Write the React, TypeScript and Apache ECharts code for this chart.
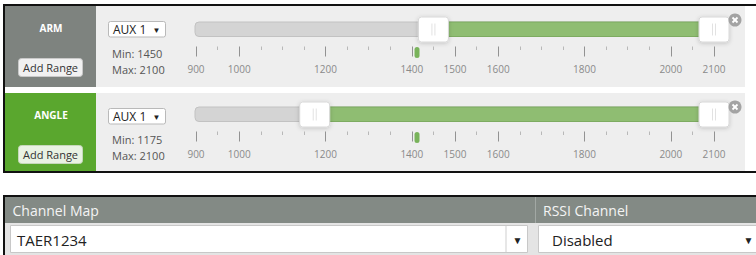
import React, { useEffect, useRef } from "react";
import * as echarts from "echarts";

// ---- data ----
const SCALE_MIN = 900;
const SCALE_MAX = 2100;
const SCALE_LABELS = [900, 1000, 1200, 1400, 1500, 1600, 1800, 2000, 2100];
const PIP_STEP = 50;
const MODE_NAMES = ["ARM", "ANGLE"];
const MODE_AUX = ["AUX 1", "AUX 1"];
const RANGE_MINS = [1450, 1175];
const RANGE_MAXS = [2100, 2100];
const CHANNEL_VALUES = [1412, 1412];
const PANEL_HEADERS = ["Channel Map", "RSSI Channel"];
const CHANNEL_MAP = "TAER1234";
const RSSI_CHANNEL = "Disabled";

const MINOR_PIPS: number[] = [];
for (let v = SCALE_MIN; v <= SCALE_MAX; v += PIP_STEP) {
  if (!SCALE_LABELS.includes(v)) MINOR_PIPS.push(v);
}

const FONT = '"Open Sans", "Noto Sans", sans-serif';

const ROWS = [
  { top: 6, bottom: 87, cell: "#7e837f", btn: "#f1f1f1", btnStroke: "#c9c9c9", gridTop: 16.5 },
  { top: 93, bottom: 171, cell: "#5aa72e", btn: "#e9f2e3", btnStroke: "#c6d8bb", gridTop: 101.5 },
];

function txt(text: string, x: number, y: number, size: number, color: string, opts: any = {}) {
  return {
    type: "text",
    z: 30,
    x,
    y,
    style: {
      text,
      fill: color,
      fontSize: size,
      fontFamily: FONT,
      fontWeight: opts.weight || "normal",
      textAlign: opts.align || "left",
      align: opts.align || "left",
      textVerticalAlign: "middle",
      verticalAlign: "middle",
    },
  };
}

function rect(x: number, y: number, w: number, h: number, fill: string, extra: any = {}) {
  return {
    type: "rect",
    z: extra.z ?? 1,
    shape: { x, y, width: w, height: h, r: extra.r || 0 },
    style: { fill, stroke: extra.stroke || null, lineWidth: extra.lineWidth || 1 },
  };
}

function buildGraphic() {
  const g: any[] = [];
  // black frame of top block
  g.push(rect(3, 4, 753, 2, "#111", { z: 2 }));
  g.push(rect(3, 4, 2, 169, "#111", { z: 2 }));
  g.push(rect(3, 171, 753, 2, "#111", { z: 2 }));

  ROWS.forEach((row, i) => {
    const h = row.bottom - row.top;
    g.push(rect(5, row.top, 91, h, row.cell));
    g.push(rect(96, row.top, 649, h, "#eeeeee"));
    g.push(txt(MODE_NAMES[i], 51, row.top + 21.5, 10, "#ffffff", { weight: "bold", align: "center" }));
    // Add Range button
    const by = row.top + 52;
    g.push(rect(18.5, by + 0.5, 64, 18, row.btn, { r: 3, stroke: row.btnStroke, z: 3 }));
    g.push(txt("Add Range", 50.5, by + 9.5, 11, "#333333", { align: "center" }));
    // AUX select
    const sy = row.top + 15;
    g.push(rect(108.5, sy + 0.5, 57, 15.5, "#ffffff", { r: 2, stroke: "#b9b9b9", z: 3 }));
    g.push(txt(MODE_AUX[i], 113, sy + 8.5, 12, "#222222"));
    g.push(txt("▼", 152.5, sy + 8, 8, "#222222"));
    // Min / Max
    g.push(txt("Min: " + RANGE_MINS[i], 112, row.top + 47.3 - (i ? 0.8 : 0), 11, "#555555"));
    g.push(txt("Max: " + RANGE_MAXS[i], 112, row.top + 63.5 - (i ? 1.5 : 0), 11, "#555555"));
    // close button
    const cx = 735, cy = row.top + 14;
    g.push({ type: "circle", z: 20, shape: { cx, cy, r: 6.5 }, style: { fill: "#a3a3a3" } });
    g.push({ type: "line", z: 21, shape: { x1: cx - 2.5, y1: cy - 2.5, x2: cx + 2.5, y2: cy + 2.5 }, style: { stroke: "#ffffff", lineWidth: 1.8 } });
    g.push({ type: "line", z: 21, shape: { x1: cx - 2.5, y1: cy + 2.5, x2: cx + 2.5, y2: cy - 2.5 }, style: { stroke: "#ffffff", lineWidth: 1.8 } });
  });

  // bottom block
  g.push(rect(3, 195, 753, 2, "#111", { z: 2 }));
  g.push(rect(3, 195, 2, 60, "#111", { z: 2 }));
  g.push(rect(5, 197, 751, 26, "#838a85"));
  g.push(rect(535, 197, 1, 26, "#a2a8a4", { z: 2 }));
  g.push(txt(PANEL_HEADERS[0], 12.5, 210, 14, "#f4f4f4"));
  g.push(txt(PANEL_HEADERS[1], 543, 210, 14, "#f4f4f4"));
  g.push(rect(5, 223, 751, 32, "#e4e4e4"));
  // channel map box
  g.push(rect(10.5, 225.5, 517, 27, "#ffffff", { stroke: "#c8c8c8", z: 3 }));
  g.push(rect(505.5, 226, 1, 26, "#cfcfcf", { z: 4 }));
  g.push(txt(CHANNEL_MAP, 17, 240, 15, "#222222"));
  g.push(txt("▼", 512.5, 240, 10, "#222222"));
  // rssi box
  g.push(rect(538.5, 225.5, 230, 27, "#ffffff", { stroke: "#c8c8c8", z: 3 }));
  g.push(txt(RSSI_CHANNEL, 552, 240, 15, "#222222"));
  g.push(txt("▼", 743.5, 240, 10, "#222222"));
  return g;
}

function sliderRender(params: any, api: any) {
  const cs = params.coordSys;
  const xMin = api.coord([api.value(0), 0])[0];
  const xMax = api.coord([api.value(1), 0])[0];
  const xVal = api.coord([api.value(2), 0])[0];
  const top = cs.y;
  const bottom = cs.y + cs.height;
  const trackY = top + 5.5;
  const trackH = 14.5;
  const handle = (cx: number) => ({
    type: "group",
    children: [
      {
        type: "rect",
        shape: { x: cx - 15, y: top + 0.5, width: 30, height: 25, r: 3 },
        style: { fill: "#ffffff", stroke: "#d8d8d8", lineWidth: 1, shadowBlur: 4, shadowColor: "rgba(0,0,0,0.18)", shadowOffsetY: 1 },
      },
      { type: "line", shape: { x1: cx - 1.5, y1: top + 7, x2: cx - 1.5, y2: top + 19 }, style: { stroke: "#e2e2e2", lineWidth: 1 } },
      { type: "line", shape: { x1: cx + 1.5, y1: top + 7, x2: cx + 1.5, y2: top + 19 }, style: { stroke: "#e2e2e2", lineWidth: 1 } },
    ],
  });
  return {
    type: "group",
    children: [
      {
        type: "rect",
        shape: { x: cs.x - 1, y: trackY, width: cs.width + 14, height: trackH, r: 4 },
        style: { fill: "#d4d4d4", stroke: "#c2c2c2", lineWidth: 1 },
      },
      {
        type: "rect",
        shape: { x: xMin, y: trackY, width: xMax - xMin, height: trackH, r: 0 },
        style: { fill: "#8fbd72", stroke: "#7dab61", lineWidth: 1 },
      },
      handle(xMin),
      handle(xMax),
      {
        type: "rect",
        shape: { x: xVal - 2.5, y: bottom + 0.5, width: 5, height: 11, r: 2.5 },
        style: { fill: "#79b35b" },
      },
    ],
  };
}

export default function App() {
  const ref = useRef<HTMLDivElement>(null);
  useEffect(() => {
    if (!ref.current) return;
    const chart = echarts.init(ref.current, undefined, { renderer: "svg" });
    const grids: any[] = [];
    const xAxes: any[] = [];
    const yAxes: any[] = [];
    const series: any[] = [];
    ROWS.forEach((row, i) => {
      grids.push({ left: 196, width: 518, top: row.gridTop, height: 30 });
      xAxes.push({
        gridIndex: i,
        type: "value",
        min: SCALE_MIN,
        max: SCALE_MAX,
        position: "bottom",
        z: 10,
        axisLine: { show: false },
        splitLine: { show: false },
        axisTick: { show: true, customValues: SCALE_LABELS, length: 10, lineStyle: { color: "#929292", width: 1 } },
        axisLabel: {
          show: true,
          customValues: SCALE_LABELS,
          margin: 17,
          fontSize: 10,
          color: "#8a8a8a",
          fontFamily: FONT,
          formatter: (v: number) => String(v),
        },
      });
      xAxes.push({
        gridIndex: i,
        type: "value",
        min: SCALE_MIN,
        max: SCALE_MAX,
        position: "bottom",
        z: 10,
        axisLine: { show: false },
        splitLine: { show: false },
        axisTick: { show: true, customValues: MINOR_PIPS, length: 3.5, lineStyle: { color: "#b8b8b8", width: 1 } },
        axisLabel: { show: false },
      });
      yAxes.push({ gridIndex: i, type: "value", min: 0, max: 1, show: false });
      series.push({
        type: "custom",
        xAxisIndex: 2 * i,
        yAxisIndex: i,
        z: 10,
        clip: false,
        data: [[RANGE_MINS[i], RANGE_MAXS[i], CHANNEL_VALUES[i]]],
        renderItem: sliderRender,
      });
    });
    chart.setOption({
      animation: false,
      backgroundColor: "#ffffff",
      textStyle: { fontFamily: FONT },
      grid: grids,
      xAxis: xAxes,
      yAxis: yAxes,
      series,
      graphic: { elements: buildGraphic() },
    });
    return () => chart.dispose();
  }, []);
  return <div ref={ref} style={{ position: "absolute", left: 0, top: 0, width: 756, height: 255 }} />;
}
